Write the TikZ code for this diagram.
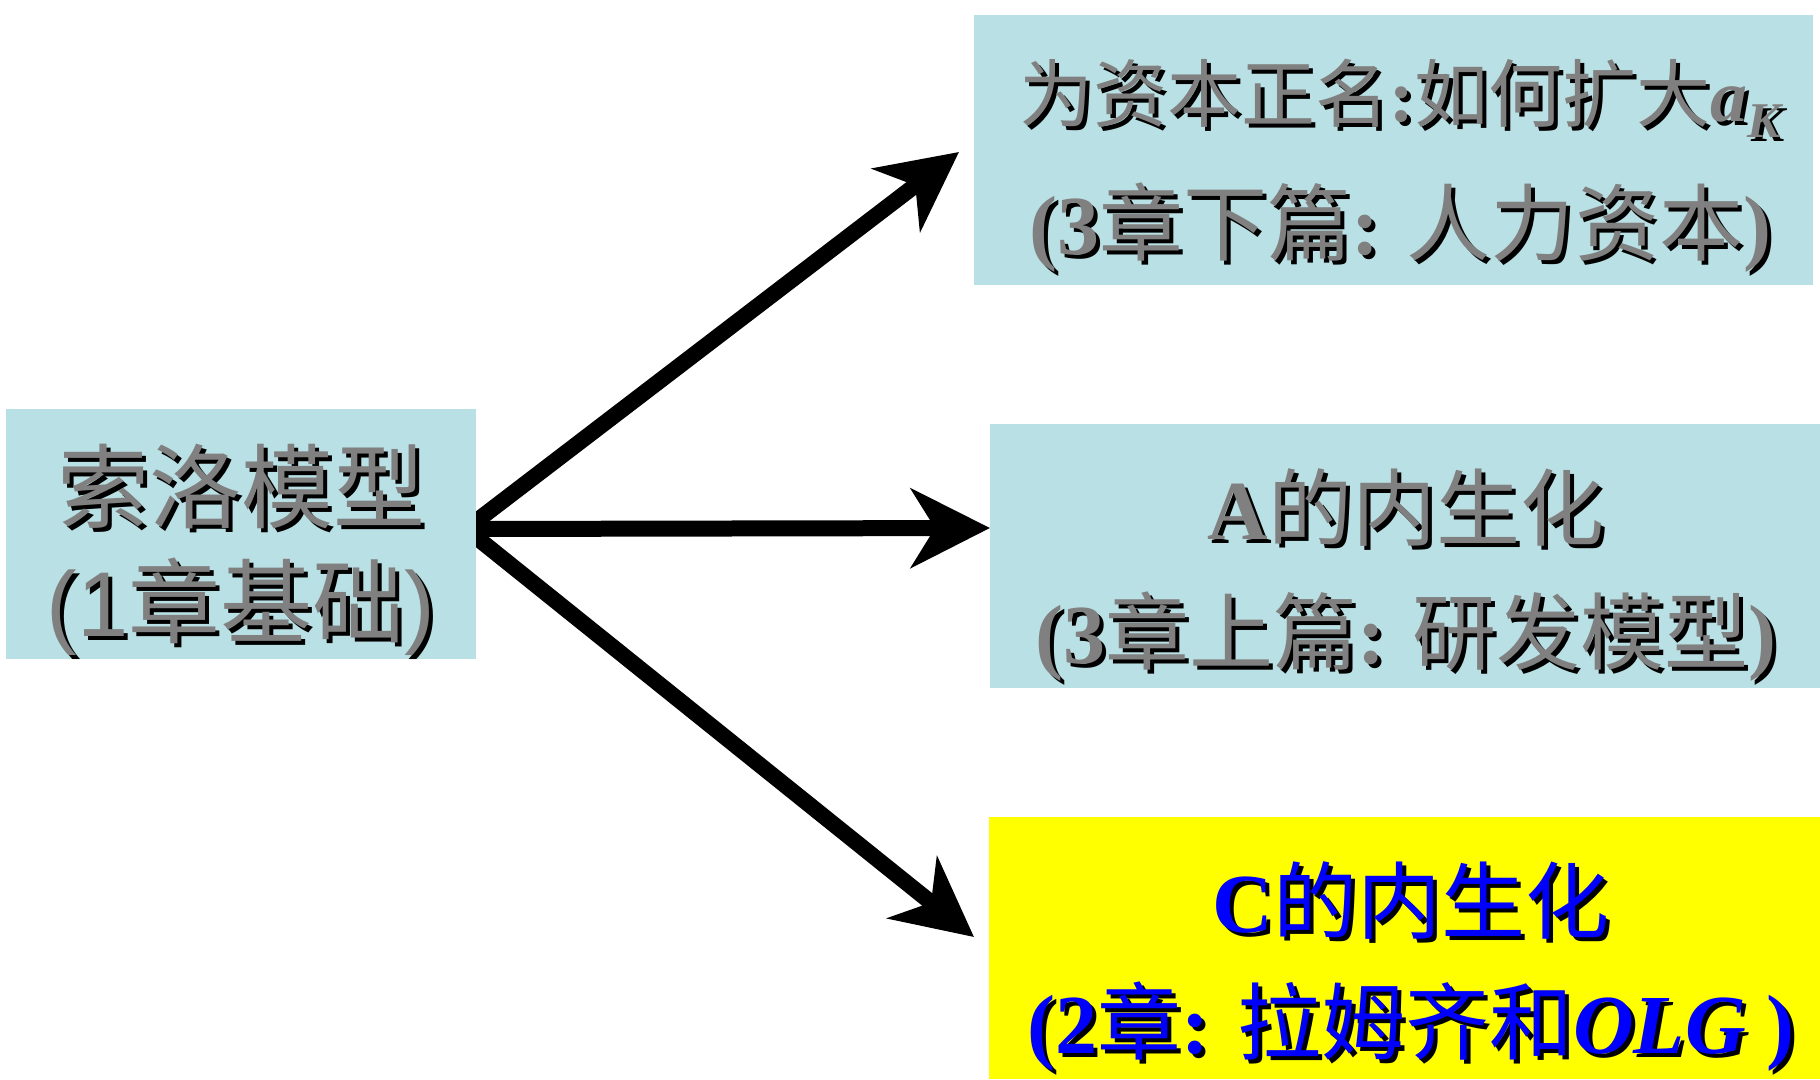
\documentclass[tikz,border=0pt]{standalone}
\usepackage{fontspec}
\setmainfont{Liberation Serif}
\newfontfamily\cjk{Noto Sans CJK SC}
\newfontfamily\arl{Liberation Sans}
\usetikzlibrary{arrows.meta}
\definecolor{boxblue}{RGB}{185,224,228}
\definecolor{boxyellow}{RGB}{255,255,0}
\definecolor{tgrey}{RGB}{128,128,128}
\definecolor{tblue}{RGB}{0,0,255}
\newcommand\shd[2]{\leavevmode\rlap{\kern4pt\raisebox{-4pt}{\color{black}#2}}{\color{#1}#2}}
\newcommand\zh[1]{{\cjk #1}}
\newcommand\tm[1]{{\bfseries #1}}
\newcommand\fs[1]{\fontsize{#1}{#1}\selectfont}
\pgfdeclarelayer{bg}
\pgfsetlayers{bg,main}
\tikzset{
  box/.style={rectangle, inner sep=0pt, outer sep=0pt},
  txt/.style={inner sep=0pt, outer sep=0pt, anchor=base},
  conn/.style={line width=16pt, -{Stealth[length=79pt, width=79pt, inset=24pt]}}
}
\begin{document}
\begin{tikzpicture}[x=1pt,y=-1pt]
\useasboundingbox (0,0) rectangle (1820,1079);
% boxes
\node[box, fill=boxblue, minimum width=470pt, minimum height=250pt] (solow) at (241,534) {};
\node[box, fill=boxblue, minimum width=839pt, minimum height=270pt] (topbox) at (1393.5,150) {};
\node[box, fill=boxblue, minimum width=830pt, minimum height=264pt] (midbox) at (1405,556) {};
\node[box, fill=boxyellow, minimum width=831pt, minimum height=262pt] (botbox) at (1404.5,948) {};
% texts
\node[txt] (s1) at (241,521) {\fs{92}\shd{tgrey}{\zh{索洛模型}}};
\node[txt] (s2) at (241,636) {\fs{92}\shd{tgrey}{{\arl(1}\zh{章基础}{\arl)}}};
\node[txt] (a1) at (1400,121) {\fs{74}\shd{tgrey}{\zh{为资本正名}\tm{:}\zh{如何扩大}{\bfseries\itshape a\raisebox{-0.22em}{\fs{50}K}}}};
\node[txt] (a2) at (1400,254) {\fs{84}\shd{tgrey}{\tm{(3}\zh{章下篇}\tm{: }\zh{人力资本}\tm{)}}};
\node[txt] (b1) at (1406,539) {\fs{84}\shd{tgrey}{\tm{A}\zh{的内生化}}};
\node[txt] (b2) at (1406,663) {\fs{84}\shd{tgrey}{\tm{(3}\zh{章上篇}\tm{: }\zh{研发模型}\tm{)}}};
\node[txt] (c1) at (1411,932) {\fs{84}\shd{tblue}{\tm{C}\zh{的内生化}}};
\node[txt] (c2) at (1411,1053) {\fs{84}\shd{tblue}{\tm{(2}\zh{章}\tm{: }\zh{拉姆齐和}{\bfseries\itshape OLG}\tm{ )}}};
% connectors
\begin{pgfonlayer}{bg}
\draw[conn] ([xshift=-10pt,yshift=5pt]solow.east) -- ([xshift=-15pt,yshift=-2pt]topbox.west);
\draw[conn] ([xshift=-10pt,yshift=5pt]solow.east) -- ([yshift=28pt]midbox.west);
\draw[conn] ([xshift=-10pt,yshift=5pt]solow.east) -- ([xshift=-15pt,yshift=11pt]botbox.west);
\end{pgfonlayer}
\end{tikzpicture}
\end{document}
